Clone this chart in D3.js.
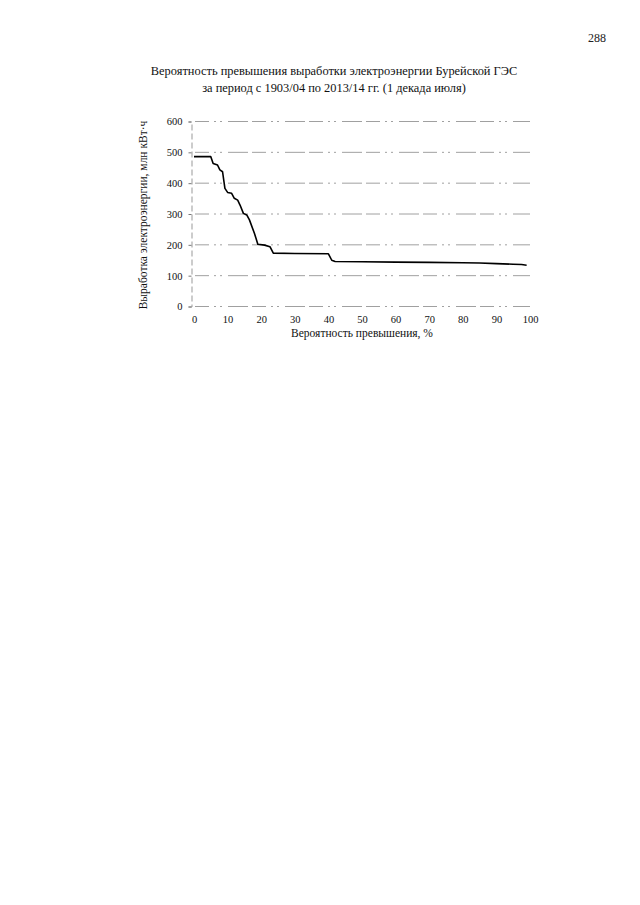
<!DOCTYPE html>
<html>
<head>
<meta charset="utf-8">
<script src="https://cdn.jsdelivr.net/npm/d3@7"></script>
<style>
  html, body { margin: 0; padding: 0; background: #fff; }
  svg { display: block; font-family: "Liberation Serif", "DejaVu Serif", serif; }
</style>
</head>
<body>
<svg id="chart" width="640" height="905"></svg>
<script>
// ---- data ----
const titleLines = [
  "Вероятность превышения выработки электроэнергии Бурейской ГЭС",
  "за период с 1903/04 по 2013/14 гг. (1 декада июля)"
];
const pageNumber = "288";
const xLabel = "Вероятность превышения, %";
const yLabel = "Выработка электроэнергии, млн кВт·ч";
const xTicks = [0, 10, 20, 30, 40, 50, 60, 70, 80, 90, 100];
const yTicks = [0, 100, 200, 300, 400, 500, 600];
const probability = [0, 5, 5.7, 7, 7.7, 8.5, 9.2, 10, 11.2, 12, 13, 13.7, 14.7, 15.7, 16.5, 18, 19, 21, 22.6, 23.6, 30, 40, 41, 42, 50, 60, 70, 80, 85, 90, 95, 97.5, 99];
const energy =      [486, 486, 464, 459, 443, 437, 383, 370, 367, 351, 345, 329, 302, 297, 281, 237, 202, 199, 194, 173, 172, 171, 150, 146, 145, 144, 143, 142, 141, 139, 137, 136, 134];

// ---- drawing ----
const svg = d3.select("#chart");
const x = d3.scaleLinear().domain([0, 100]).range([194, 530]);
const y = d3.scaleLinear().domain([0, 600]).range([306.5, 121.5]);

// page number
svg.append("text").attr("x", 606).attr("y", 42).attr("text-anchor", "end")
  .attr("font-size", 12).attr("fill", "#222").text(pageNumber);

// title
svg.selectAll("text.title").data(titleLines).enter().append("text")
  .attr("class", "title")
  .attr("x", 334).attr("y", (d, i) => 74.5 + i * 17.5)
  .attr("text-anchor", "middle").attr("font-size", 12.4).attr("fill", "#111")
  .text(d => d);

// gridlines
svg.append("g").selectAll("line").data(yTicks).enter().append("line")
  .attr("x1", 195).attr("x2", 530)
  .attr("y1", d => y(d)).attr("y2", d => y(d))
  .attr("stroke", "#a0a0a0").attr("stroke-width", 1)
  .attr("stroke-dasharray", "14,5,2,4,2,6,20,4");

// y axis
const yAxis = d3.axisLeft(y).tickValues(yTicks).tickSize(3).tickPadding(6);
const gy = svg.append("g").attr("transform", "translate(191.5,0)").call(yAxis);
gy.select(".domain").attr("stroke", "#999").attr("stroke-dasharray", "6,3");
gy.selectAll(".tick line").attr("stroke", "#777");
gy.selectAll("text").attr("font-size", 10.5).attr("fill", "#111")
  .attr("font-family", "Liberation Serif");

// x axis (labels only)
const xAxis = d3.axisBottom(x).tickValues(xTicks).tickSize(0).tickPadding(9);
const gx = svg.append("g").attr("transform", `translate(0,${y(0)})`).call(xAxis);
gx.select(".domain").remove();
gx.selectAll("text").attr("font-size", 10.5).attr("fill", "#111")
  .attr("font-family", "Liberation Serif");

// axis titles
svg.append("text").attr("x", 362).attr("y", 337).attr("text-anchor", "middle")
  .attr("font-size", 11.5).attr("fill", "#111").text(xLabel);
svg.append("text").attr("transform", "translate(147,215) rotate(-90)")
  .attr("text-anchor", "middle").attr("font-size", 11.5).attr("fill", "#111").text(yLabel);

// curve
const pts = probability.map((p, i) => [p, energy[i]]);
svg.append("path").datum(pts)
  .attr("d", d3.line().x(d => x(d[0])).y(d => y(d[1])))
  .attr("fill", "none").attr("stroke", "#000").attr("stroke-width", 1.6)
  .attr("stroke-linejoin", "round");
</script>
</body>
</html>
